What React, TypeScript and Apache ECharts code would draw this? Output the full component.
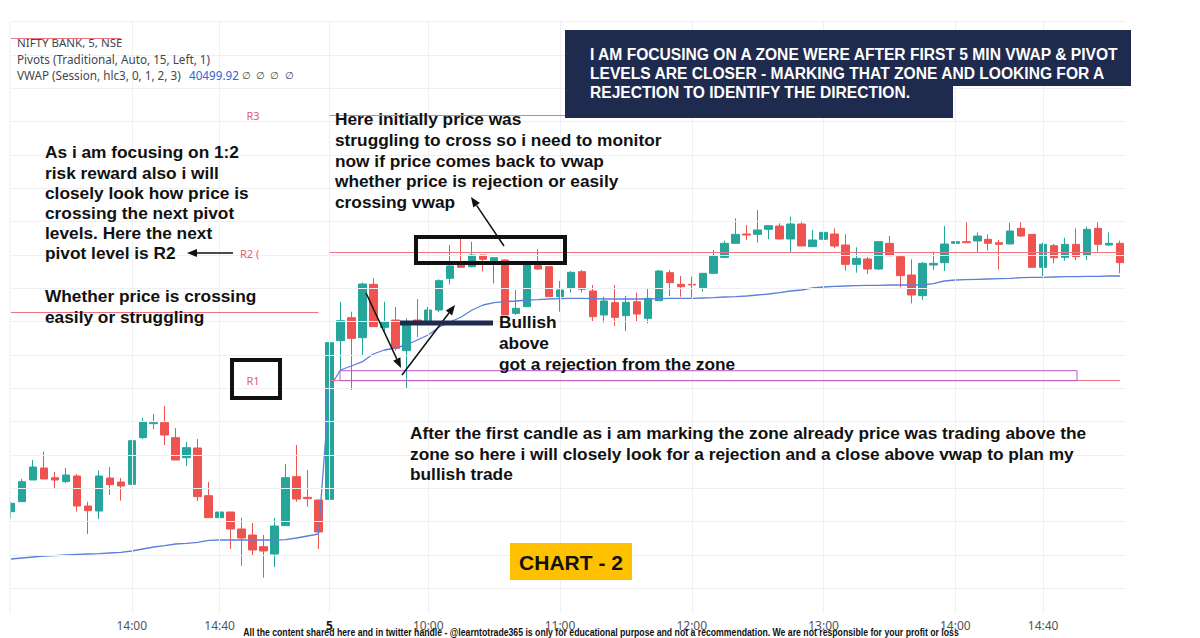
import React, { useEffect, useRef } from "react";
import * as echarts from "echarts";

function buildTimes(day: string, h: number, m: number, n: number): string[] {
  const out: string[] = [];
  for (let i = 0; i < n; i++) {
    const t = h * 60 + m + i * 5;
    const hh = Math.floor(t / 60);
    const mm = t % 60;
    out.push(`${day} ${String(hh).padStart(2, "0")}:${String(mm).padStart(2, "0")}`);
  }
  return out;
}

const day1Times = buildTimes("4", 13, 5, 29);
const day2Times = buildTimes("5", 9, 15, 73);
const categories = [...day1Times, ...day2Times];

const labelTimes = ["4 14:00", "4 14:40", "5 09:15", "5 10:00", "5 11:00", "5 12:00", "5 13:00", "5 14:00", "5 14:40"];

// [open, close, low, high]
const day1Candles = [
  [40165, 40177.5, 40155, 40180],
  [40180, 40210, 40180, 40214],
  [40212.5, 40232, 40212.5, 40242.5],
  [40230.5, 40214, 40214, 40255],
  [40216, 40212.5, 40199, 40224.5],
  [40210, 40220, 40208, 40230.5],
  [40218.5, 40173.5, 40165, 40221.5],
  [40173.5, 40166.5, 40131.5, 40180],
  [40166, 40218.5, 40154, 40226.5],
  [40215.5, 40205.5, 40190, 40232],
  [40209.5, 40203.5, 40181.5, 40215.5],
  [40206, 40271.5, 40205, 40272.5],
  [40276, 40299.5, 40274, 40305.5],
  [40297, 40298.5, 40289, 40311.5],
  [40298.5, 40280, 40265, 40323.5],
  [40276, 40242.5, 40242.5, 40290.5],
  [40246, 40261, 40233.5, 40269.5],
  [40260.5, 40187.5, 40181, 40274],
  [40189, 40156, 40156, 40209.5],
  [40156, 40164.5, 40150, 40204],
  [40164.5, 40139, 40109, 40164.5],
  [40139, 40125.5, 40084, 40156],
  [40130, 40107.5, 40099, 40148],
  [40112.5, 40106, 40066, 40130],
  [40101.5, 40143.5, 40082, 40155.5],
  [40144, 40216, 40144, 40236.5],
  [40217.5, 40184, 40180, 40265],
  [40186.5, 40184.5, 40172.5, 40227.5],
  [40182.5, 40134.5, 40109, 40182.5],
];

const day2Candles = [
  [40183.5, 40418.5, 40157.5, 40425.5],
  [40421.5, 40451.5, 40377.5, 40480],
  [40456, 40425, 40347.5, 40465],
  [40426, 40506.5, 40400, 40508.5],
  [40506, 40442.5, 40442.5, 40515],
  [40441.5, 40450, 40433, 40480],
  [40452.5, 40410, 40406.5, 40472],
  [40406.5, 40448.5, 40350, 40455],
  [40452.5, 40446.5, 40427, 40484],
  [40447.5, 40467.5, 40447.5, 40472],
  [40467.5, 40511.5, 40464.5, 40513.5],
  [40515, 40533.5, 40506, 40565],
  [40535, 40531.5, 40531.5, 40575],
  [40532.5, 40550, 40531.5, 40570],
  [40550, 40543.5, 40525, 40550],
  [40540, 40546, 40507.5, 40546],
  [40542.5, 40460, 40460, 40543.5],
  [40462.5, 40470, 40460, 40497.5],
  [40472.5, 40537.5, 40472, 40541.5],
  [40534, 40529, 40527.5, 40558.5],
  [40532.5, 40487.5, 40487.5, 40532.5],
  [40487.5, 40497.5, 40465, 40511],
  [40500, 40524, 40493.5, 40526],
  [40525, 40498.5, 40493.5, 40527.5],
  [40496, 40457.5, 40450, 40505],
  [40460, 40481, 40448.5, 40487.5],
  [40478.5, 40456.5, 40443.5, 40505],
  [40459, 40479, 40436, 40488.5],
  [40480, 40461.5, 40450, 40493.5],
  [40455, 40485, 40447.5, 40500],
  [40481.5, 40526, 40481.5, 40527.5],
  [40523.5, 40508.5, 40488.5, 40527.5],
  [40506, 40502.5, 40487.5, 40518.5],
  [40506, 40505, 40486.5, 40517.5],
  [40501, 40522.5, 40495, 40522.5],
  [40522.5, 40549, 40522.5, 40557.5],
  [40546.5, 40567.5, 40545.5, 40571.5],
  [40567.5, 40581, 40567.5, 40605],
  [40581.5, 40580, 40572.5, 40595],
  [40581, 40587.5, 40568.5, 40617.5],
  [40588.5, 40594, 40573.5, 40594],
  [40593.5, 40574, 40574, 40597.5],
  [40574, 40596.5, 40554, 40607.5],
  [40596.5, 40563.5, 40563.5, 40601.5],
  [40562.5, 40572.5, 40562.5, 40587.5],
  [40573.5, 40584, 40573.5, 40596.5],
  [40581.5, 40563.5, 40560, 40590],
  [40565, 40536, 40526.5, 40581],
  [40536, 40545, 40523.5, 40561.5],
  [40544, 40529, 40521.5, 40547],
  [40529, 40570, 40527.5, 40570],
  [40567.5, 40549, 40549, 40578.5],
  [40547.5, 40519, 40501.5, 40547.5],
  [40520, 40490, 40477.5, 40543.5],
  [40489, 40537.5, 40482.5, 40539.5],
  [40535, 40537.5, 40527.5, 40555],
  [40538.5, 40566.5, 40526, 40593.5],
  [40567.5, 40570, 40567.5, 40590],
  [40570, 40568.5, 40568.5, 40599],
  [40571, 40578.5, 40553.5, 40584],
  [40573.5, 40567.5, 40556.5, 40581],
  [40568.5, 40566, 40528.5, 40572.5],
  [40566.5, 40586, 40566.5, 40598.5],
  [40590, 40578.5, 40577.5, 40599],
  [40581, 40531.5, 40531.5, 40581],
  [40531.5, 40566, 40518.5, 40568.5],
  [40564, 40546, 40537.5, 40566.5],
  [40546.5, 40566, 40541.5, 40576],
  [40566, 40547.5, 40542.5, 40590],
  [40550, 40588.5, 40542.5, 40592.5],
  [40590, 40566, 40555, 40599],
  [40565, 40567.5, 40564, 40584],
  [40567.5, 40538.5, 40522.5, 40571.5],
];

const vwapDay1 = [
  40094, 40095.5, 40097, 40098.5, 40099, 40100, 40101, 40101.5, 40102, 40103, 40104, 40106, 40109, 40112, 40114,
  40116.5, 40117.5, 40119, 40122, 40122.5, 40122.5, 40122.5, 40122.5, 40122.5, 40122.5, 40123, 40125.5, 40128.5, 40131.5,
];

const vwapDay2 = [
  40350.5, 40377.5, 40383.5, 40390, 40401.5, 40407.5, 40410.5, 40415, 40422.5, 40430, 40442, 40449.5, 40457, 40467.5,
  40475, 40478.5, 40480, 40481, 40482.5, 40483, 40484, 40484.5, 40485, 40485, 40484.5, 40484, 40484, 40484, 40484,
  40484, 40484.5, 40485, 40485, 40485, 40485.5, 40486, 40487, 40487.5, 40488.5, 40490, 40491.5, 40493.5, 40496,
  40497.5, 40500.5, 40502, 40503, 40503.5, 40504, 40504.5, 40504.5, 40505, 40505, 40505, 40505, 40507, 40511, 40512.5,
  40513, 40513.5, 40514, 40514.5, 40515, 40516, 40516.5, 40516.5, 40517, 40517.5, 40517.5, 40518, 40518, 40518.5,
  40518.5,
];

// pivot levels: [level, first bar, last bar]
const pivotDay1: [number, string, string][] = [
  [40875.5, "4 13:05", "4 13:55"],
  [40464, "4 13:05", "4 15:25"],
];
const pivotDay2: [number, string, string][] = [
  [40760, "5 09:15", "5 11:50"],
  [40554, "5 09:15", "5 15:15"],
  [40361.5, "5 09:15", "5 15:15"],
];

const gridPrices = [
  40050, 40100, 40150, 40200, 40250, 40300, 40350, 40400, 40450, 40500, 40550, 40600, 40650, 40700, 40750, 40800,
  40850, 40900,
];

const FONT = '"Liberation Sans", Arial, sans-serif';

function txt(x: number, y: number, text: string, size: number, opts: any = {}) {
  return {
    type: "text",
    x,
    y,
    z: 100,
    scaleX: opts.scaleX ?? 1,
    style: {
      text,
      fill: opts.fill ?? "#111111",
      fontSize: size,
      fontWeight: opts.weight ?? "bold",
      fontFamily: opts.family ?? FONT,
      textAlign: opts.align ?? "left",
      textVerticalAlign: "middle",
      align: opts.align ?? "left",
      verticalAlign: "middle",
    },
  };
}

function arrow(x1: number, y1: number, x2: number, y2: number, lw = 1.5, hl = 10, hw = 4) {
  const dx = x2 - x1;
  const dy = y2 - y1;
  const len = Math.hypot(dx, dy);
  const ux = dx / len;
  const uy = dy / len;
  const bx = x2 - ux * hl;
  const by = y2 - uy * hl;
  return [
    { type: "line", z: 100, shape: { x1, y1, x2: bx, y2: by }, style: { stroke: "#111111", lineWidth: lw } },
    {
      type: "polygon",
      z: 100,
      shape: { points: [[x2, y2], [bx - uy * hw, by + ux * hw], [bx + uy * hw, by - ux * hw]] },
      style: { fill: "#111111" },
    },
  ];
}

export default function App() {
  const ref = useRef<HTMLDivElement>(null);

  useEffect(() => {
    if (!ref.current) return;
    const chart = echarts.init(ref.current, undefined, { renderer: "svg" });
    const candles = [...day1Candles, ...day2Candles];
    const vwap = [...vwapDay1, ...vwapDay2];
    const labelSet = new Set(labelTimes);

    const pivotLines = [...pivotDay1, ...pivotDay2].map(([lvl, a, b]) => [
      { coord: [a, lvl] },
      { coord: [b, lvl] },
    ]);

    const leftText = [
      ["As i am focusing on 1:2", 152],
      ["risk reward also i will", 172.5],
      ["closely look how price is", 193],
      ["crossing the next pivot", 213],
      ["levels. Here the next", 233],
      ["pivot level is R2", 253],
      ["Whether price is crossing", 296],
      ["easily or struggling", 317],
    ] as [string, number][];

    const midText = [
      ["Here initially price was", 119],
      ["struggling to cross so i need to monitor", 140],
      ["now if price comes back to vwap", 160.5],
      ["whether price is rejection or easily", 181],
      ["crossing vwap", 201.5],
    ] as [string, number][];

    const graphic: any[] = [
      { type: "rect", z: 60, shape: { x: 0, y: 0, width: 10, height: 638 }, style: { fill: "#ffffff" } },
      { type: "line", z: 61, shape: { x1: 10, y1: 22, x2: 10, y2: 613 }, style: { stroke: "#eceef2", lineWidth: 1 } },
      txt(17, 42.5, "NIFTY BANK, 5, NSE", 11.5, { weight: "normal", family: "Noto Sans", fill: "#434651" }),
      txt(17, 58.5, "Pivots (Traditional, Auto, 15, Left, 1)", 11.7, { weight: "normal", family: "Noto Sans", fill: "#434651" }),
      txt(17, 74.5, "VWAP (Session, hlc3, 0, 1, 2, 3)", 11.7, { weight: "normal", family: "Noto Sans", fill: "#434651" }),
      txt(189, 74.5, "40499.92", 11.7, { weight: "normal", family: "Noto Sans", fill: "#2f66d9" }),
      txt(242, 74.5, "∅  ∅  ∅  ∅", 10, { weight: "normal", family: "Noto Sans", fill: "#434651" }),
      txt(253, 115.5, "R3", 11, { weight: "normal", family: "Noto Sans", fill: "#e0606e", align: "center" }),
      txt(240, 253, "R2 (", 11, { weight: "normal", family: "Noto Sans", fill: "#e0606e" }),
      txt(253, 380, "R1", 11, { weight: "normal", family: "Noto Sans", fill: "#e0606e", align: "center" }),
      // navy info box
      {
        type: "polygon",
        z: 100,
        shape: { points: [[565, 30], [1131, 30], [1131, 86], [953, 86], [953, 118], [565, 118]] },
        style: { fill: "#1f2b4e" },
      },
      txt(590, 54, "I AM FOCUSING ON A ZONE WERE AFTER FIRST 5 MIN VWAP & PIVOT", 15.6, { fill: "#ffffff" }),
      txt(590, 73, "LEVELS ARE CLOSER - MARKING THAT ZONE AND LOOKING FOR A", 15.6, { fill: "#ffffff" }),
      txt(590, 92.5, "REJECTION TO IDENTIFY THE DIRECTION.", 15.6, { fill: "#ffffff" }),
      ...leftText.map(([t, y]) => txt(45, y, t, 17.3)),
      ...midText.map(([t, y]) => txt(335, y, t, 17.3)),
      ...arrow(233, 253, 187, 253),
      ...arrow(504, 246, 471, 197),
      ...arrow(366, 293, 401, 368),
      ...arrow(402, 375, 455, 305),
      // boxes
      { type: "rect", z: 100, shape: { x: 416, y: 237, width: 149, height: 26 }, style: { fill: "none", stroke: "#111111", lineWidth: 4 } },
      { type: "rect", z: 100, shape: { x: 232, y: 360, width: 48, height: 38 }, style: { fill: "none", stroke: "#111111", lineWidth: 4 } },
      { type: "rect", z: 100, shape: { x: 400, y: 320.5, width: 93, height: 5 }, style: { fill: "#1f2b4e" } },
      { type: "rect", z: 90, shape: { x: 340, y: 370.7, width: 737, height: 10 }, style: { fill: "none", stroke: "#b45cc6", lineWidth: 1 } },
      txt(499, 322, "Bullish", 17.3),
      txt(499, 343, "above", 17.3),
      txt(499, 364, "got a rejection from the zone", 17.3),
      txt(410, 433, "After the first candle as i am marking the zone already price was trading above the", 17.3),
      txt(410, 453.5, "zone so here i will closely look for a rejection and a close above vwap to plan my", 17.3),
      txt(410, 474, "bullish trade", 17.3),
      { type: "rect", z: 100, shape: { x: 510, y: 543, width: 122, height: 37 }, style: { fill: "#ffc000" } },
      txt(571, 562, "CHART - 2", 21, { align: "center" }),
      txt(601, 633, "All the content shared here and in twitter handle - @learntotrade365 is only for educational purpose and not a recommendation. We are not responsible for your profit or loss", 10, { align: "center", scaleX: 0.87 }),
    ];

    chart.setOption({
      animation: false,
      backgroundColor: "#ffffff",
      grid: { left: 5.5, right: 74.5, top: 21.67, bottom: 25, containLabel: false },
      xAxis: {
        type: "category",
        data: categories,
        boundaryGap: true,
        axisLine: { show: false },
        axisTick: { show: false },
        splitLine: { show: false },
        axisLabel: {
          interval: (_i: number, v: string) => labelSet.has(v),
          hideOverlap: false,
          formatter: (v: string) => (v === "5 09:15" ? "{d|5}" : v.split(" ")[1]),
          color: "#50535e",
          fontSize: 12,
          fontFamily: "Noto Sans",
          margin: 6,
          rich: { d: { fontWeight: "bold", color: "#131722", fontSize: 12, fontFamily: "Noto Sans" } },
        },
      },
      yAxis: { type: "value", min: 40013, max: 40900, show: false, splitLine: { show: false } },
      series: [
        {
          name: "grid",
          type: "line",
          data: vwap,
          z: 0,
          silent: true,
          showSymbol: false,
          lineStyle: { opacity: 0 },
          markLine: {
            silent: true,
            symbol: "none",
            animation: false,
            label: { show: false },
            lineStyle: { color: "#eef0f4", width: 1, type: "solid" },
            data: [
              ...labelTimes.map((t) => ({ xAxis: t })),
              ...gridPrices.map((p) => ({ yAxis: p })),
            ],
          },
        },
        {
          name: "NIFTY BANK",
          type: "candlestick",
          data: candles,
          barWidth: 8,
          z: 3,
          itemStyle: {
            color: "#26a69a",
            color0: "#ef5350",
            borderColor: "#26a69a",
            borderColor0: "#ef5350",
            borderWidth: 1,
          },
          markLine: {
            silent: true,
            symbol: "none",
            animation: false,
            label: { show: false },
            lineStyle: { color: "#ee7480", width: 1.2, type: "solid" },
            data: pivotLines,
          },
        },
        {
          name: "VWAP",
          type: "line",
          data: vwap,
          z: 4,
          showSymbol: false,
          silent: true,
          lineStyle: { color: "#5b80d8", width: 1.3 },
        },
      ],
      graphic,
    });

    return () => chart.dispose();
  }, []);

  return <div ref={ref} style={{ position: "fixed", left: 0, top: 0, width: 1200, height: 638 }} />;
}
